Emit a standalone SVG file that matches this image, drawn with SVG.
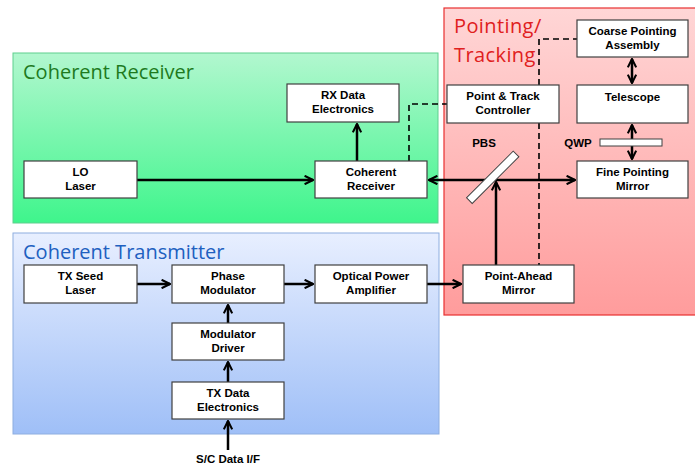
<svg xmlns="http://www.w3.org/2000/svg" width="695" height="465" viewBox="0 0 695 465">
<defs>
<linearGradient id="gG" x1="0" y1="0" x2="0" y2="1"><stop offset="0" stop-color="#b2f7cf"/><stop offset="1" stop-color="#3ff58c"/></linearGradient>
<linearGradient id="gB" x1="0" y1="0" x2="0" y2="1"><stop offset="0" stop-color="#e8efff"/><stop offset="1" stop-color="#9fbff7"/></linearGradient>
<linearGradient id="gR" x1="0" y1="0" x2="0" y2="1"><stop offset="0" stop-color="#ffd6d6"/><stop offset="1" stop-color="#ff9c9c"/></linearGradient>
<marker id="ah" viewBox="0 0 10 10" refX="9" refY="5" markerWidth="4.2" markerHeight="4.2" orient="auto-start-reverse" markerUnits="strokeWidth">
<path d="M1,1 L9,5 L1,9" fill="none" stroke="#000" stroke-width="2"/>
</marker>
</defs>
<style>
.box{fill:#fff;stroke:#404040;stroke-width:1.2}
.t{font-family:"Liberation Sans",Arial,sans-serif;font-weight:bold;font-size:11.5px;text-anchor:middle;fill:#000}
.c{fill:none;stroke:#000;stroke-width:2.5}
.d{fill:none;stroke:#000;stroke-width:1.6;stroke-dasharray:6,4}
.title{font-family:"Open Sans","Liberation Sans",sans-serif;font-size:20px}
</style>
<g id="panel-receiver">
<rect x="13" y="53" width="425" height="170" fill="url(#gG)" stroke="#5fcf8e" stroke-width="1"/>
<text class="title" x="23" y="79" fill="#1e7a1e">Coherent Receiver</text>
</g>
<g id="panel-transmitter">
<rect x="13" y="233" width="426" height="201" fill="url(#gB)" stroke="#8eaee0" stroke-width="1"/>
<text class="title" x="23" y="259" fill="#2060c0">Coherent Transmitter</text>
</g>
<g id="panel-pointing">
<rect x="444" y="8" width="260" height="307" fill="url(#gR)" stroke="#e83030" stroke-width="1.2"/>
<text class="title" x="454" y="33" fill="#e02020" letter-spacing="0.4">Pointing/</text>
<text class="title" x="454" y="62" fill="#e02020" letter-spacing="0.4">Tracking</text>
</g>
<g id="connectors">
<line class="c" x1="137" y1="180" x2="313" y2="180" marker-end="url(#ah)"/>
<line class="c" x1="357" y1="161" x2="357" y2="124" marker-end="url(#ah)"/>
<polyline class="d" points="409,161 409,104 447,104"/>
<polyline class="d" points="539,85 539,39 577,39"/>
<line class="d" x1="539" y1="123" x2="539" y2="265"/>
<line class="c" x1="429" y1="180" x2="575" y2="180" marker-start="url(#ah)" marker-end="url(#ah)"/>
<line class="c" x1="496" y1="265" x2="496" y2="182" marker-end="url(#ah)"/>
<line class="c" x1="427" y1="284" x2="461" y2="284" marker-end="url(#ah)"/>
<line class="c" x1="137" y1="284" x2="170" y2="284" marker-end="url(#ah)"/>
<line class="c" x1="284" y1="284" x2="313" y2="284" marker-end="url(#ah)"/>
<line class="c" x1="228" y1="323" x2="228" y2="305" marker-end="url(#ah)"/>
<line class="c" x1="228" y1="382" x2="228" y2="362" marker-end="url(#ah)"/>
<line class="c" x1="228" y1="450" x2="228" y2="421" marker-end="url(#ah)"/>
<line class="c" x1="632" y1="59" x2="632" y2="83" marker-start="url(#ah)" marker-end="url(#ah)"/>
<line class="c" x1="632" y1="125" x2="632" y2="159" marker-start="url(#ah)" marker-end="url(#ah)"/>
</g>
<g id="pbs">
<rect x="460" y="174" width="66" height="8" fill="#fff" stroke="#404040" stroke-width="1" transform="rotate(-45 492 178)"/>
<text class="t" x="484" y="147">PBS</text>
</g>
<g id="qwp">
<rect x="600" y="139" width="62" height="7" fill="#fff" stroke="#404040" stroke-width="1"/>
<text class="t" x="578" y="147">QWP</text>
</g>
<g id="lo-laser"><rect class="box" x="24" y="161" width="113" height="37"/><text class="t" x="80.5" y="176">LO</text><text class="t" x="80.5" y="190">Laser</text></g>
<g id="coherent-receiver"><rect class="box" x="315" y="161" width="112" height="37"/><text class="t" x="371" y="176">Coherent</text><text class="t" x="371" y="190">Receiver</text></g>
<g id="rx-data"><rect class="box" x="287" y="84" width="112" height="38"/><text class="t" x="343" y="99">RX Data</text><text class="t" x="343" y="113">Electronics</text></g>
<g id="point-track"><rect class="box" x="447" y="85" width="112" height="38"/><text class="t" x="503" y="100">Point &amp; Track</text><text class="t" x="503" y="114">Controller</text></g>
<g id="coarse-pointing"><rect class="box" x="577" y="20" width="111" height="37"/><text class="t" x="632.5" y="35">Coarse Pointing</text><text class="t" x="632.5" y="49">Assembly</text></g>
<g id="telescope"><rect class="box" x="577" y="85" width="111" height="38"/><text class="t" x="632.5" y="101">Telescope</text></g>
<g id="fine-pointing"><rect class="box" x="577" y="161" width="111" height="37"/><text class="t" x="632.5" y="176">Fine Pointing</text><text class="t" x="632.5" y="190">Mirror</text></g>
<g id="point-ahead"><rect class="box" x="463" y="265" width="111" height="38"/><text class="t" x="518.5" y="280">Point-Ahead</text><text class="t" x="518.5" y="294">Mirror</text></g>
<g id="tx-seed"><rect class="box" x="24" y="265" width="113" height="38"/><text class="t" x="80.5" y="280">TX Seed</text><text class="t" x="80.5" y="294">Laser</text></g>
<g id="phase-mod"><rect class="box" x="172" y="265" width="112" height="38"/><text class="t" x="228" y="280">Phase</text><text class="t" x="228" y="294">Modulator</text></g>
<g id="opa"><rect class="box" x="315" y="265" width="112" height="38"/><text class="t" x="371" y="280">Optical Power</text><text class="t" x="371" y="294">Amplifier</text></g>
<g id="mod-driver"><rect class="box" x="172" y="323" width="112" height="37"/><text class="t" x="228" y="338">Modulator</text><text class="t" x="228" y="352">Driver</text></g>
<g id="tx-data"><rect class="box" x="172" y="382" width="112" height="37"/><text class="t" x="228" y="397">TX Data</text><text class="t" x="228" y="411">Electronics</text></g>
<g id="sc-label"><text class="t" x="228" y="463">S/C Data I/F</text></g>
</svg>
